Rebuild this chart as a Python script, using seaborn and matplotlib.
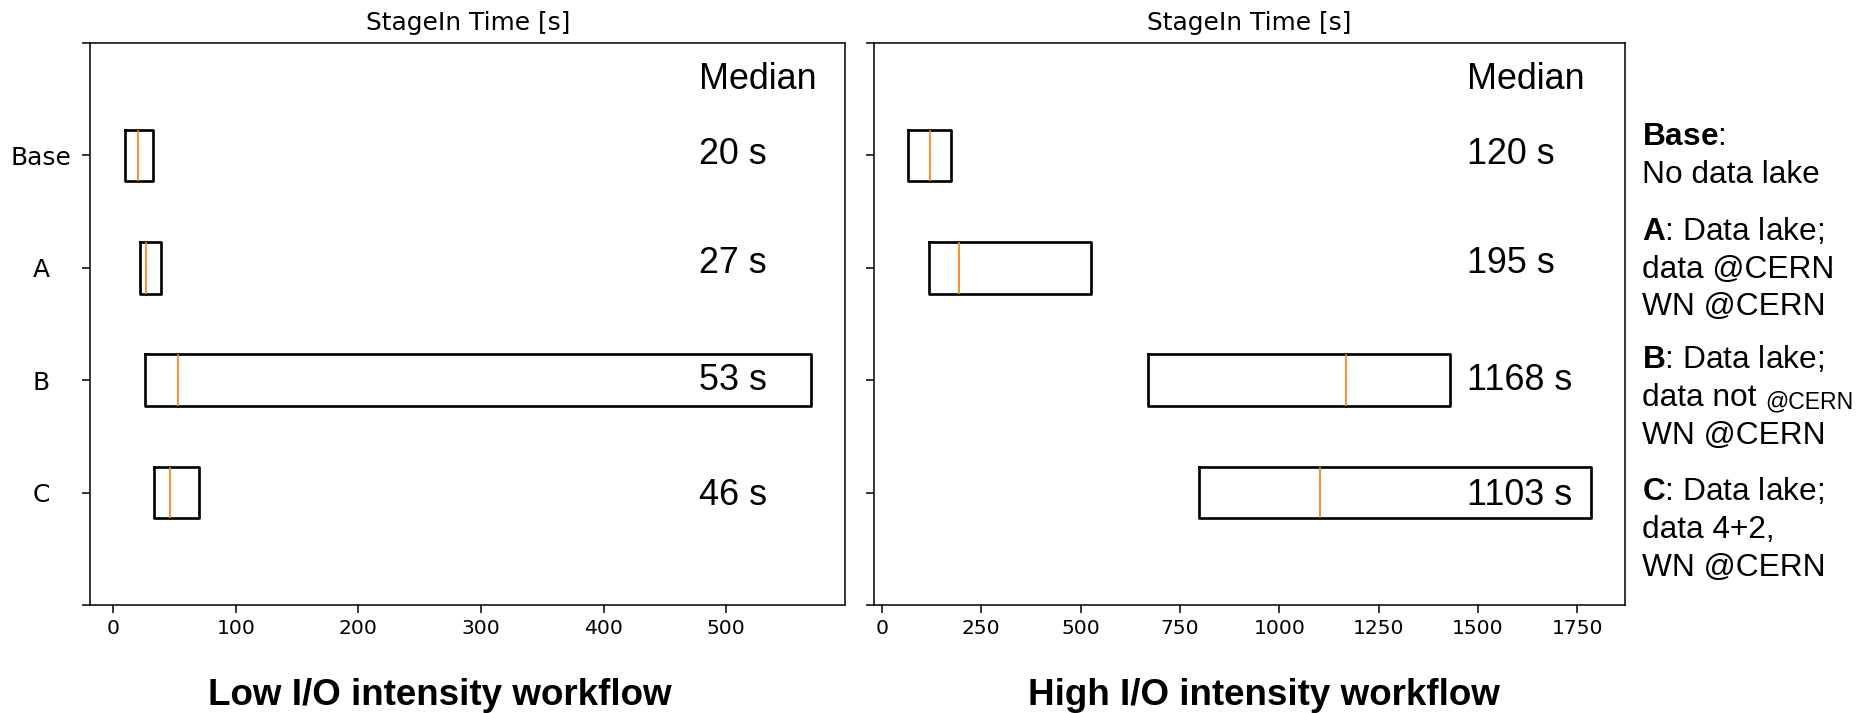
import pandas as pd
import matplotlib.pyplot as plt
import seaborn as sns

plt.rcParams['mathtext.fontset'] = 'custom'
plt.rcParams['mathtext.rm'] = 'Liberation Sans'
plt.rcParams['mathtext.bf'] = 'Liberation Sans:bold'

configs = ["Base", "A", "B", "C"]

# box edges (q1, q3) and medians, seconds
low_q1 = [9.5, 21.7, 25.8, 33.5]
low_med = [20, 27, 53, 46]
low_q3 = [32.6, 39.4, 568.8, 70.1]

high_q1 = [66, 119, 670, 799]
high_med = [120, 195, 1168, 1103]
high_q3 = [174, 526, 1430, 1784]

workflows = ["Low I/O intensity workflow", "High I/O intensity workflow"]

notes = [
    [r"$\mathbf{Base}$:", "No data lake"],
    [r"$\mathbf{A}$: Data lake;", "data @CERN", "WN @CERN"],
    [r"$\mathbf{B}$: Data lake;", "data not", "WN @CERN"],
    [r"$\mathbf{C}$: Data lake;", "data 4+2,", "WN @CERN"],
]


def make_frame(q1, med, q3):
    # five values per config so the quartiles land on q1 / q3 exactly
    rows = []
    for c, a, m, b in zip(configs, q1, med, q3):
        for v in [a, a, m, b, b]:
            rows.append({"config": c, "time": v})
    return pd.DataFrame(rows)


frames = [make_frame(low_q1, low_med, low_q3), make_frame(high_q1, high_med, high_q3)]
medians = [low_med, high_med]

dpi = 138
fig = plt.figure(figsize=(1862 / dpi, 713 / dpi), dpi=dpi)
ax1 = fig.add_axes([0.0486, 0.1515, 0.4052, 0.7882])
ax2 = fig.add_axes([0.4694, 0.1515, 0.4033, 0.7882])
axes = [ax1, ax2]

text_x = [0.8065, 0.790]
text_y = [0.785, 0.591, 0.383, 0.178]

for i, ax in enumerate(axes):
    sns.boxplot(data=frames[i], x="time", y="config", order=configs, orient="h",
                width=0.46, whis=0, fill=False, color="black", linecolor="black",
                linewidth=1.4, showcaps=False, showfliers=False,
                medianprops={"color": "#ff7f0e", "linewidth": 0.9}, ax=ax)
    ax.set_ylim(4, -1)
    ax.set_yticks(range(-1, 5))
    if i == 0:
        ax.set_yticklabels([""] + configs + [""], fontsize=13, ha="center")
        ax.tick_params(axis="y", pad=21.8)
    else:
        ax.set_yticklabels([])
    ax.tick_params(axis="both", length=4)
    ax.tick_params(axis="x", labelsize=10.6)
    ax.set_xlabel("")
    ax.set_ylabel("")
    ax.set_title("StageIn Time [s]", fontsize=13, pad=7)

    ax.text(text_x[i], 0.918, "Median", transform=ax.transAxes, fontsize=18.7,
            family="Liberation Sans", va="baseline")
    for m, y in zip(medians[i], text_y):
        ax.text(text_x[i], y, f"{m} s", transform=ax.transAxes, fontsize=18.7,
                family="Liberation Sans", va="baseline")

fig.text(0.2363, 0.0112, workflows[0], ha="center", va="baseline", fontsize=19.2,
         family="Liberation Sans", weight="bold")
fig.text(0.6786, 0.0112, workflows[1], ha="center", va="baseline", fontsize=19.2,
         family="Liberation Sans", weight="bold")

# explanation of the configs on the right
note_px = [[145, 182.7], [240, 277.5, 315], [368, 406, 444], [500, 538, 576]]
for group, ys in zip(notes, note_px):
    for line, py in zip(group, ys):
        t = fig.text(0.8817, 1 - py / 713, line, fontsize=16.5,
                     family="Liberation Sans", va="baseline")
        if line == "data not":
            ax2.annotate("@CERN", xy=(1, 0), xycoords=t, xytext=(5, 0),
                         textcoords="offset points", fontsize=12,
                         family="Liberation Sans", va="bottom", annotation_clip=False)

fig.savefig("out.png", dpi=dpi)
